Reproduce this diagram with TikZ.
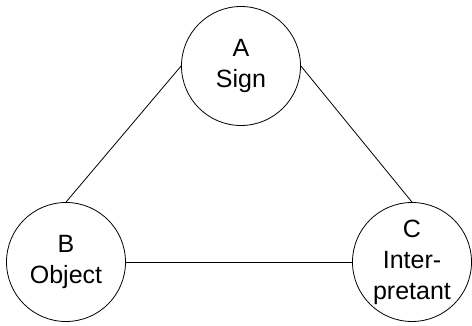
\documentclass[tikz,border=0pt]{standalone}
\usepackage{fontspec}
\setmainfont{Liberation Sans}
\usetikzlibrary{positioning, shapes}

\begin{document}
\begin{tikzpicture}[x=1pt,y=-1pt,
	every node/.style={circle,draw,line width=0.8pt,minimum size=119pt,inner sep=0pt,align=center,
		font=\fontsize{25}{31}\selectfont}]
\useasboundingbox (0,0) rectangle (472,326);
\node(sign) at (241,66) {A\\Sign};
\node(obj) at (66,262) {B\\Object};
\node(interp) at (412,262) {C\\Inter-\\pretant};

\draw[line width=0.8pt]	(sign.west) edge (obj.north)
		(sign.east) edge (interp.north)
		(obj.east) edge (interp.west)
		;
		
\end{tikzpicture}
\end{document}
